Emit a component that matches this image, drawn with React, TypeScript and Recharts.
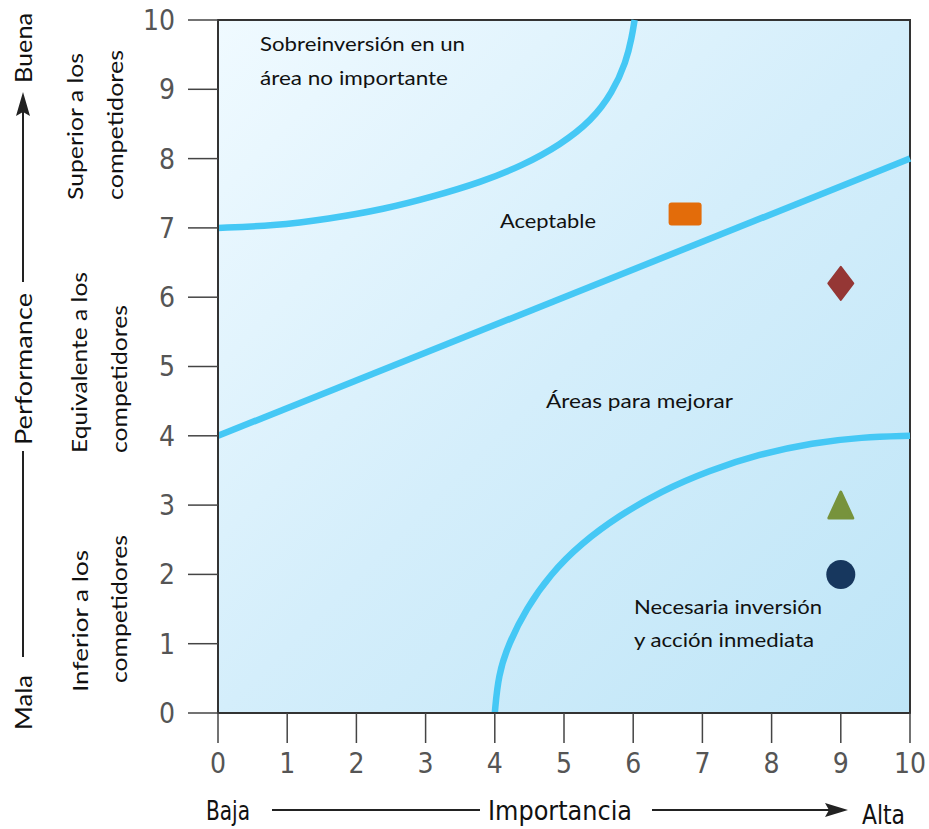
import React from "react";
import {
  ComposedChart, XAxis, YAxis, Line, Scatter, ReferenceArea, Customized
} from "recharts";

// axis ticks (importance / performance, both 0..10)
const axisTicks = [0, 1, 2, 3, 4, 5, 6, 7, 8, 9, 10];

// zone boundaries
const upperCurve = [
  { x: 0, y: 7.0 }, { x: 0.8, y: 7.03 }, { x: 1.6, y: 7.13 }, { x: 2.4, y: 7.27 },
  { x: 3.1, y: 7.45 }, { x: 3.8, y: 7.66 }, { x: 4.4, y: 7.9 }, { x: 4.95, y: 8.2 },
  { x: 5.4, y: 8.55 }, { x: 5.7, y: 8.95 }, { x: 5.9, y: 9.4 }, { x: 5.98, y: 9.75 },
  { x: 6.02, y: 10 },
];
const middleLine = [{ x: 0, y: 4 }, { x: 10, y: 8 }];
const lowerCurve = [
  { x: 4.0, y: 0 }, { x: 4.05, y: 0.55 }, { x: 4.2, y: 1.0 }, { x: 4.45, y: 1.5 },
  { x: 4.8, y: 2.0 }, { x: 5.25, y: 2.45 }, { x: 5.8, y: 2.85 }, { x: 6.4, y: 3.2 },
  { x: 7.1, y: 3.5 }, { x: 7.8, y: 3.73 }, { x: 8.6, y: 3.9 }, { x: 9.3, y: 3.98 },
  { x: 10, y: 4.0 },
];

// attributes plotted as importance vs performance
const squarePoint = [{ x: 6.75, y: 7.2 }];
const diamondPoint = [{ x: 9, y: 6.2 }];
const trianglePoint = [{ x: 9, y: 3 }];
const circlePoint = [{ x: 9, y: 2 }];

const zoneTexts = [
  "Sobreinversión en un", "área no importante", "Aceptable",
  "Áreas para mejorar", "Necesaria inversión", "y acción inmediata",
];
const levelTexts = [
  ["Superior a los", "competidores"],
  ["Equivalente a los", "competidores"],
  ["Inferior a los", "competidores"],
];
const axisWords = { yTitle: "Performance", yHigh: "Buena", yLow: "Mala", xTitle: "Importancia", xLow: "Baja", xHigh: "Alta" };

const CURVE = "#45c8f5";
const TICK_FONT = "'Liberation Sans Narrow', 'DejaVu Sans Condensed', sans-serif";
const TEXT_FONT = "Lato, 'Open Sans', sans-serif";

const SquareMark = (p: any) => (
  <rect x={p.cx - 16.5} y={p.cy - 11.5} width={33} height={23} rx={3} fill="#e36c0a" />
);
const DiamondMark = (p: any) => (
  <path
    d={`M${p.cx},${p.cy - 16.5} L${p.cx + 12.5},${p.cy} L${p.cx},${p.cy + 16.5} L${p.cx - 12.5},${p.cy} Z`}
    fill="#953735" stroke="#953735" strokeWidth={2} strokeLinejoin="round"
  />
);
const TriangleMark = (p: any) => (
  <path
    d={`M${p.cx},${p.cy - 13} L${p.cx + 12},${p.cy + 13} L${p.cx - 12},${p.cy + 13} Z`}
    fill="#77933c" stroke="#77933c" strokeWidth={3} strokeLinejoin="round"
  />
);
const CircleMark = (p: any) => <circle cx={p.cx} cy={p.cy} r={14.5} fill="#17375e" />;

// text rotated to read bottom-to-top, starting at (x, y)
function VText({ x, y, len, size, children }: any) {
  return (
    <text
      transform={`translate(${x},${y}) rotate(-90)`}
      textLength={len} lengthAdjust="spacingAndGlyphs"
      fontFamily={TEXT_FONT} fontSize={size} fill="#111"
    >
      {children}
    </text>
  );
}

function HText({ x, y, len, size = 20, font = TEXT_FONT, children }: any) {
  return (
    <text x={x} y={y} textLength={len} lengthAdjust="spacingAndGlyphs"
      fontFamily={font} fontSize={size} fill="#111">
      {children}
    </text>
  );
}

function Gradient() {
  return (
    <defs>
      <linearGradient id="zoneBg" x1="0" y1="0" x2="1" y2="1">
        <stop offset="0%" stopColor="#f0faff" />
        <stop offset="50%" stopColor="#d4eefb" />
        <stop offset="100%" stopColor="#bee5f7" />
      </linearGradient>
    </defs>
  );
}

// labels drawn on top of the chart
function Annotations() {
  return (
    <svg width={929} height={829}
      style={{ position: "absolute", left: 0, top: 0, pointerEvents: "none" }}>
      {/* zone names inside the plot */}
      <HText x={260} y={51} len={205}>{zoneTexts[0]}</HText>
      <HText x={260} y={85} len={188}>{zoneTexts[1]}</HText>
      <HText x={500} y={228} len={96}>{zoneTexts[2]}</HText>
      <HText x={546} y={408} len={187}>{zoneTexts[3]}</HText>
      <HText x={634} y={614} len={188}>{zoneTexts[4]}</HText>
      <HText x={634} y={647} len={180}>{zoneTexts[5]}</HText>

      {/* performance levels */}
      <VText x={83} y={200} len={147} size={22}>{levelTexts[0][0]}</VText>
      <VText x={123} y={200} len={150} size={22}>{levelTexts[0][1]}</VText>
      <VText x={87} y={453} len={181} size={22}>{levelTexts[1][0]}</VText>
      <VText x={127} y={453} len={148} size={22}>{levelTexts[1][1]}</VText>
      <VText x={88} y={692} len={142} size={22}>{levelTexts[2][0]}</VText>
      <VText x={127} y={683} len={148} size={22}>{levelTexts[2][1]}</VText>

      {/* vertical axis title with arrow */}
      <VText x={32} y={83} len={70} size={24}>{axisWords.yHigh}</VText>
      <VText x={32} y={445} len={152} size={24}>{axisWords.yTitle}</VText>
      <VText x={32} y={730} len={55} size={24}>{axisWords.yLow}</VText>
      <line x1={23} y1={657} x2={23} y2={451} stroke="#222" strokeWidth={2} />
      <line x1={23} y1={282} x2={23} y2={108} stroke="#222" strokeWidth={2} />
      <path d="M23,92 L30,116 L23,112 L16,116 Z" fill="#222" />

      {/* horizontal axis title with arrow */}
      <HText x={206} y={820} len={44} size={27} font={TICK_FONT}>{axisWords.xLow}</HText>
      <HText x={488} y={820} len={144} size={27} font={TICK_FONT}>{axisWords.xTitle}</HText>
      <HText x={862} y={824} len={43} size={27} font={TICK_FONT}>{axisWords.xHigh}</HText>
      <line x1={272} y1={810} x2={480} y2={810} stroke="#222" strokeWidth={2} />
      <line x1={652} y1={810} x2={832} y2={810} stroke="#222" strokeWidth={2} />
      <path d="M848,810 L825,803 L829,810 L825,817 Z" fill="#222" />
    </svg>
  );
}

export default function App() {
  const tickStyle = { fill: "#555", fontSize: 28, fontFamily: TICK_FONT };
  const curveProps = { dataKey: "y", stroke: CURVE, strokeWidth: 6.5, dot: false, activeDot: false, isAnimationActive: false };
  return (
    <div style={{ position: "absolute", left: 0, top: 0, width: 929, height: 829, background: "#fff" }}>
      <ComposedChart width={929} height={829} margin={{ top: 20, right: 19, bottom: 0, left: 0 }}>
        <XAxis
          type="number" dataKey="x" domain={[0, 10]} ticks={axisTicks} interval={0}
          height={116} tickSize={30} tickMargin={10} tick={tickStyle}
          axisLine={{ stroke: "#333", strokeWidth: 2 }} tickLine={{ stroke: "#444", strokeWidth: 1.5 }}
        />
        <YAxis
          type="number" dataKey="y" domain={[0, 10]} ticks={axisTicks} interval={0}
          width={218} tickSize={30} tickMargin={13} tick={tickStyle}
          axisLine={{ stroke: "#333", strokeWidth: 2 }} tickLine={{ stroke: "#444", strokeWidth: 1.5 }}
        />
        <Customized component={Gradient} />
        <ReferenceArea x1={0} x2={10} y1={0} y2={10} fill="url(#zoneBg)" fillOpacity={1} stroke="none" />
        {/* b-spline through the traced points keeps the boundaries smooth */}
        <Line data={upperCurve} type="basis" {...curveProps} />
        <Line data={middleLine} type="linear" {...curveProps} />
        <Line data={lowerCurve} type="basis" {...curveProps} />
        <Scatter data={squarePoint} dataKey="y" shape={SquareMark} isAnimationActive={false} />
        <Scatter data={diamondPoint} dataKey="y" shape={DiamondMark} isAnimationActive={false} />
        <Scatter data={trianglePoint} dataKey="y" shape={TriangleMark} isAnimationActive={false} />
        <Scatter data={circlePoint} dataKey="y" shape={CircleMark} isAnimationActive={false} />
        <ReferenceArea x1={0} x2={10} y1={0} y2={10} fill="none" stroke="#333" strokeWidth={2} />
      </ComposedChart>
      <Annotations />
    </div>
  );
}
